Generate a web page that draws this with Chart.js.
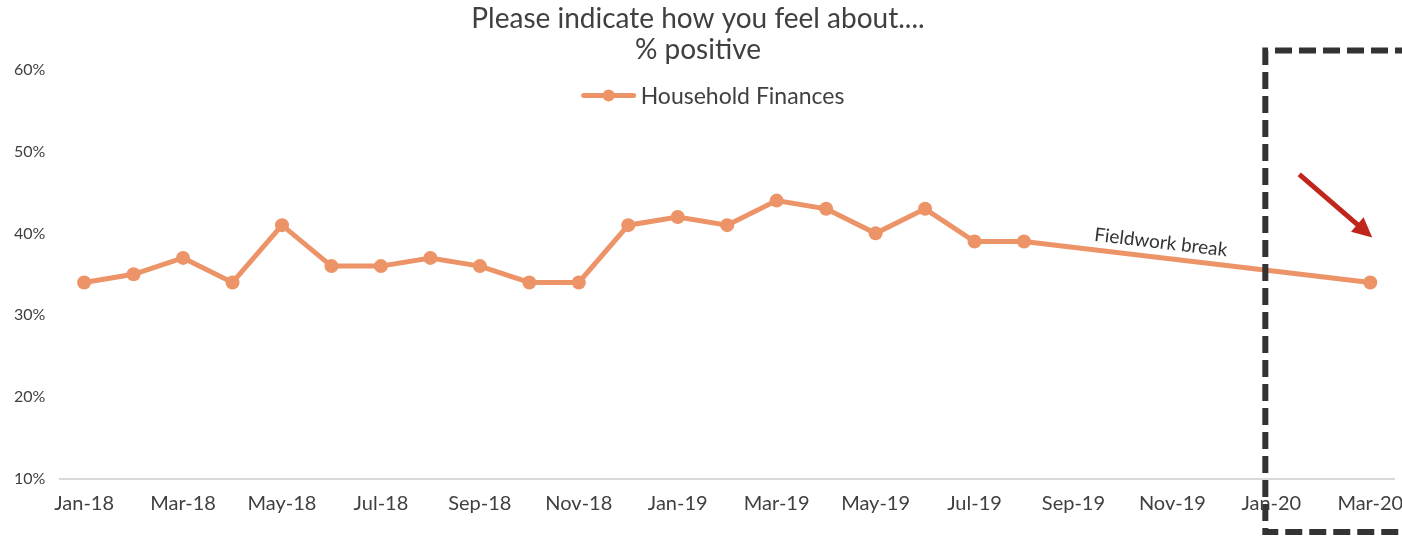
<!DOCTYPE html>
<html>
<head>
<meta charset="utf-8">
<script src="https://cdn.jsdelivr.net/npm/chart.js@4.4.1/dist/chart.umd.min.js"></script>
<style>
  html, body { margin: 0; padding: 0; background: #fff; }
  #wrap { width: 1402px; height: 537px; }
</style>
</head>
<body>
<div id="wrap"><canvas id="feel"></canvas></div>
<script>
// monthly survey waves
const months = [
    'Jan-18', 'Feb-18', 'Mar-18', 'Apr-18', 'May-18', 'Jun-18', 'Jul-18', 'Aug-18', 'Sep-18',
    'Oct-18', 'Nov-18', 'Dec-18', 'Jan-19', 'Feb-19', 'Mar-19', 'Apr-19', 'May-19', 'Jun-19',
    'Jul-19', 'Aug-19', 'Sep-19', 'Oct-19', 'Nov-19', 'Dec-19', 'Jan-20', 'Feb-20', 'Mar-20'
];

// % positive, null where no fieldwork took place
const householdFinances = [
    34, 35, 37, 34, 41, 36, 36, 37, 36,
    34, 34, 41, 42, 41, 44, 43, 40, 43,
    39, 39, null, null, null, null, null, null, 34
];

const yTicks = [10, 20, 30, 40, 50, 60];

const lineColour = '#EC9467';
const textColour = '#404040';
const fontFamily = 'Lato, "Open Sans", sans-serif';

// legend row: line-with-dot swatch followed by the series name
const legendRow = {
    id: 'legendRow',
    afterDraw(chart) {
        const ctx = chart.ctx;
        const name = chart.data.datasets[0].label;
        ctx.save();
        ctx.font = '23px ' + fontFamily;
        const tw = ctx.measureText(name).width;
        const sw = 54, gap = 5;
        const left = chart.width / 2 + 12 - (sw + gap + tw) / 2;
        const cy = chart.chartArea.top + 26;

        ctx.strokeStyle = lineColour;
        ctx.lineWidth = 5;
        ctx.lineCap = 'round';
        ctx.beginPath();
        ctx.moveTo(left + 2, cy);
        ctx.lineTo(left + sw - 2, cy);
        ctx.stroke();
        ctx.fillStyle = lineColour;
        ctx.beginPath();
        ctx.arc(left + sw / 2, cy, 6, 0, Math.PI * 2);
        ctx.fill();

        ctx.fillStyle = textColour;
        ctx.textAlign = 'left';
        ctx.textBaseline = 'middle';
        ctx.fillText(name, left + sw + gap, cy + 1);
        ctx.restore();
    }
};

// text along the gap segment, dashed box round the latest wave and the red arrow
const annotations = {
    id: 'annotations',
    afterDatasetsDraw(chart) {
        const ctx = chart.ctx;
        const x = chart.scales.x;
        const y = chart.scales.y;
        const area = chart.chartArea;

        // label the spanned gap between Aug-19 and Mar-20
        const i0 = 19, i1 = 26;
        const x0 = x.getPixelForValue(i0), y0 = y.getPixelForValue(householdFinances[i0]);
        const x1 = x.getPixelForValue(i1), y1 = y.getPixelForValue(householdFinances[i1]);
        const t = 0.39;
        const angle = Math.atan2(y1 - y0, x1 - x0);
        ctx.save();
        ctx.translate(x0 + (x1 - x0) * t, y0 + (y1 - y0) * t);
        ctx.rotate(angle);
        ctx.font = '19px ' + fontFamily;
        ctx.fillStyle = '#333';
        ctx.textAlign = 'center';
        ctx.textBaseline = 'alphabetic';
        ctx.fillText('Fieldwork break', 0, -9);
        ctx.restore();

        // dashed box
        const left = x.getPixelForValue(24) - 6;
        ctx.save();
        ctx.strokeStyle = '#333';
        ctx.lineWidth = 6;
        ctx.setLineDash([17, 7]);
        ctx.beginPath();
        ctx.moveTo(chart.width + 10, area.top - 19);
        ctx.lineTo(left, area.top - 19);
        ctx.lineTo(left, chart.height - 5);
        ctx.lineTo(chart.width + 10, chart.height - 5);
        ctx.stroke();
        ctx.restore();

        // arrow pointing down to the latest wave
        const ax1 = x.getPixelForValue(26) + 2;
        const ay1 = y.getPixelForValue(39.5);
        const ax0 = ax1 - 73;
        const ay0 = y.getPixelForValue(47.2);
        const a = Math.atan2(ay1 - ay0, ax1 - ax0);
        const head = 22;
        ctx.save();
        ctx.strokeStyle = '#C0261C';
        ctx.fillStyle = '#C0261C';
        ctx.lineWidth = 5;
        ctx.beginPath();
        ctx.moveTo(ax0, ay0);
        ctx.lineTo(ax1 - Math.cos(a) * head * 0.8, ay1 - Math.sin(a) * head * 0.8);
        ctx.stroke();
        ctx.beginPath();
        ctx.moveTo(ax1, ay1);
        ctx.lineTo(ax1 - head * Math.cos(a - 0.45), ay1 - head * Math.sin(a - 0.45));
        ctx.lineTo(ax1 - head * Math.cos(a + 0.45), ay1 - head * Math.sin(a + 0.45));
        ctx.closePath();
        ctx.fill();
        ctx.restore();
    }
};

new Chart(document.getElementById('feel').getContext('2d'), {
    type: 'line',
    data: {
        labels: months,
        datasets: [{
            label: 'Household Finances',
            data: householdFinances,
            borderColor: lineColour,
            backgroundColor: lineColour,
            borderWidth: 5,
            pointRadius: 7,
            pointHoverRadius: 7,
            pointBorderWidth: 0,
            pointStyle: 'circle',
            spanGaps: true,
            tension: 0
        }]
    },
    options: {
        responsive: true,
        maintainAspectRatio: false,
        animation: false,
        layout: {padding: {left: 0, right: 6, top: 0, bottom: 8}},
        plugins: {
            title: {
                display: true,
                text: ['Please indicate how you feel about....', '% positive'],
                color: textColour,
                font: {family: fontFamily, size: 28, weight: 'normal', lineHeight: 1.1},
                padding: {top: 4, bottom: 4}
            },
            legend: {display: false},
            tooltip: {enabled: false}
        },
        scales: {
            x: {
                offset: true,
                grid: {display: false, drawTicks: false},
                border: {display: false},
                ticks: {
                    autoSkip: false,
                    maxRotation: 0,
                    padding: 13,
                    color: textColour,
                    font: {family: fontFamily, size: 20},
                    callback: function (val, idx) {
                        return idx % 2 === 0 ? months[idx] : '';
                    }
                },
                // let the last label run off the edge instead of squeezing the plot
                afterFit: function (scale) {
                    scale.paddingRight = 0;
                }
            },
            y: {
                min: yTicks[0],
                max: yTicks[yTicks.length - 1],
                afterBuildTicks: function (scale) {
                    scale.ticks = yTicks.map(v => ({value: v}));
                },
                grid: {
                    drawTicks: false,
                    lineWidth: 2,
                    color: ctx => ctx.tick && ctx.tick.value === yTicks[0] ? '#D9D9D9' : 'rgba(0,0,0,0)'
                },
                border: {display: false},
                ticks: {
                    padding: 14,
                    color: textColour,
                    font: {family: fontFamily, size: 16},
                    callback: v => v + '%'
                }
            }
        }
    },
    plugins: [annotations, legendRow]
});
</script>
</body>
</html>
